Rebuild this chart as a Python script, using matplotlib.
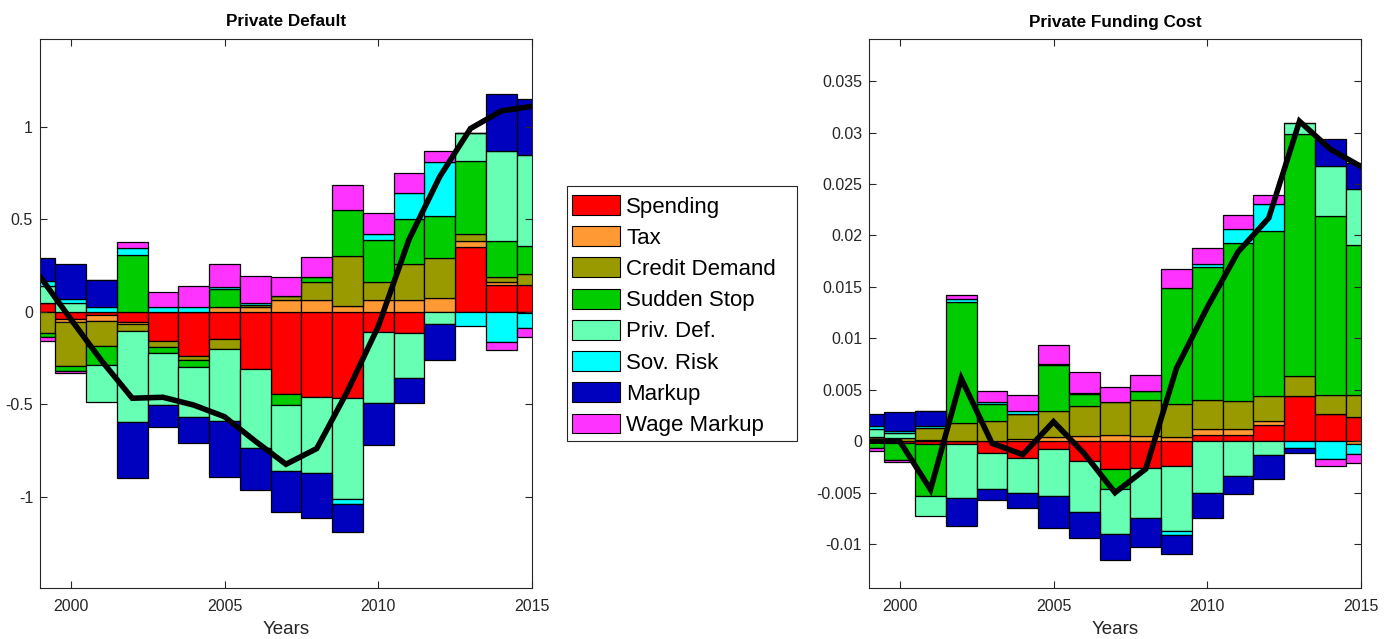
import matplotlib.pyplot as plt
import numpy as np
from matplotlib.patches import Patch, Rectangle
from matplotlib.ticker import FormatStrFormatter

plt.rcParams['font.family'] = ['Liberation Sans', 'DejaVu Sans']
plt.rcParams['axes.unicode_minus'] = False

years = np.arange(1999, 2016)
labels = ['Spending', 'Tax', 'Credit Demand', 'Sudden Stop', 'Priv. Def.',
          'Sov. Risk', 'Markup', 'Wage Markup']
colors = ['#ff0000', '#ff9933', '#999900', '#00cc00', '#66ffb3',
          '#00ffff', '#0000bf', '#ff33ff']

# Private Default decomposition
pd_spending = [0.049, -0.041, -0.018, -0.058, -0.157, -0.24, -0.148, -0.312, -0.445,
               -0.463, -0.468, -0.108, -0.113, 0.0, 0.351, 0.144, 0.144]
pd_tax = [0.0, -0.013, -0.032, -0.011, 0.0, 0.0, 0.023, 0.027, 0.065,
          0.063, 0.032, 0.063, 0.063, 0.072, 0.032, 0.014, -0.008]
pd_credit = [-0.117, -0.24, -0.135, -0.036, -0.036, -0.022, -0.056, 0.011, 0.018,
             0.099, 0.268, 0.095, 0.193, 0.216, 0.036, 0.027, 0.058]
pd_sudden = [-0.02, -0.027, -0.106, 0.306, -0.029, -0.036, 0.097, 0.0, -0.06,
             0.023, 0.252, 0.229, 0.243, 0.231, 0.395, 0.198, 0.155]
pd_privdef = [0.09, 0.045, -0.2, -0.49, -0.283, -0.27, -0.387, -0.423, -0.357,
              -0.41, -0.546, -0.387, -0.247, -0.067, 0.153, 0.486, 0.49]
pd_sovrisk = [0.029, 0.022, 0.027, 0.036, 0.027, 0.025, 0.014, 0.009, 0.0,
              0.0, -0.027, 0.032, 0.144, 0.292, -0.077, -0.162, -0.08]
pd_markup = [0.124, 0.189, 0.144, -0.303, -0.117, -0.144, -0.301, -0.229, -0.222,
             -0.24, -0.151, -0.225, -0.135, -0.195, 0.0, 0.306, 0.301]
pd_wage = [-0.02, -0.013, 0.0, 0.036, 0.077, 0.114, 0.126, 0.144, 0.105,
           0.112, 0.131, 0.115, 0.105, 0.059, 0.0, -0.045, -0.05]
pd_line = [0.19, -0.04, -0.265, -0.468, -0.463, -0.505, -0.568, -0.70, -0.825,
           -0.74, -0.43, -0.08, 0.39, 0.73, 0.99, 1.085, 1.11]

# Private Funding Cost decomposition
fc_spending = [0.0001, -0.0002, -0.0003, -0.0003, -0.0011, -0.0016, -0.0008, -0.0019, -0.0027,
               -0.0026, -0.0024, 0.0006, 0.0006, 0.0016, 0.0044, 0.0026, 0.0024]
fc_tax = [0.0, 0.0, 0.0001, 0.0, 0.0, 0.0002, 0.0004, 0.0005, 0.0006,
          0.0005, 0.0004, 0.0006, 0.0006, 0.0004, 0.0, 0.0, -0.0003]
fc_credit = [0.0003, 0.0003, 0.0012, 0.0018, 0.0020, 0.0024, 0.0025, 0.0029, 0.0032,
             0.0035, 0.0032, 0.0028, 0.0027, 0.0024, 0.0019, 0.0019, 0.0021]
fc_sudden = [-0.0007, -0.0016, -0.0050, 0.0117, 0.0016, 0.0, 0.0045, 0.0012, -0.0019,
             0.0009, 0.0113, 0.0129, 0.0154, 0.0160, 0.0236, 0.0174, 0.0146]
fc_privdef = [0.0008, 0.0005, -0.0020, -0.0052, -0.0035, -0.0034, -0.0045, -0.0050, -0.0044,
              -0.0049, -0.0063, -0.0050, -0.0034, -0.0013, 0.0010, 0.0049, 0.0054]
fc_sovrisk = [0.0003, 0.0002, 0.00015, 0.0003, 0.0002, 0.0003, 0.0001, 0.0001, 0.0,
              0.0, -0.0004, 0.0003, 0.0013, 0.0027, -0.0007, -0.0017, -0.0009]
fc_markup = [0.0011, 0.0018, 0.0015, -0.0027, -0.0011, -0.0015, -0.0031, -0.0025, -0.0025,
             -0.0028, -0.0019, -0.0025, -0.0017, -0.0024, -0.0004, 0.0026, 0.0025]
fc_wage = [-0.0003, -0.0002, 0.0, 0.0004, 0.0011, 0.0016, 0.0019, 0.0020, 0.0015,
           0.0015, 0.0018, 0.0016, 0.0014, 0.0008, 0.0, -0.0007, -0.0009]
fc_line = [0.0, 0.0, -0.0047, 0.0061, -0.0002, -0.0013, 0.0019, -0.0012, -0.0050,
           -0.0027, 0.0071, 0.0130, 0.0184, 0.0217, 0.0311, 0.0284, 0.0267]


def stacked(ax, comps, line, title, ylim, yticks):
    pos = np.zeros(len(years))
    neg = np.zeros(len(years))
    for vals, c in zip(comps, colors):
        vals = np.array(vals)
        bottom = np.where(vals >= 0, pos, neg)
        ax.bar(years, vals, width=1, bottom=bottom, color=c,
               edgecolor='black', linewidth=0.9)
        pos += np.clip(vals, 0, None)
        neg += np.clip(vals, None, 0)
    ax.plot(years, line, color='black', linewidth=4, solid_joinstyle='miter')
    ax.set_xlim(1999, 2015)
    ax.set_ylim(*ylim)
    ax.set_xticks([2000, 2005, 2010, 2015])
    ax.set_yticks(yticks)
    ax.yaxis.set_major_formatter(FormatStrFormatter('%g'))
    ax.set_title(title, fontsize=12.3, fontweight='bold', pad=9)
    ax.set_xlabel('Years', fontsize=13.5, color='#262626', labelpad=5)
    ax.tick_params(direction='in', top=True, right=True, length=5, pad=5,
                   labelsize=11.5, color='#262626', labelcolor='#262626')
    ax.tick_params(axis='x', pad=8)
    for s in ax.spines.values():
        s.set_color('#262626')
        s.set_linewidth(0.8)


fig = plt.figure(figsize=(13.93, 6.39), dpi=100)
ax1 = fig.add_axes([40 / 1393, 51 / 639, 492 / 1393, 549 / 639])
ax2 = fig.add_axes([869 / 1393, 51 / 639, 492 / 1393, 549 / 639])

stacked(ax1, [pd_spending, pd_tax, pd_credit, pd_sudden, pd_privdef,
              pd_sovrisk, pd_markup, pd_wage], pd_line,
        'Private Default', (-1.494, 1.474), [-1, -0.5, 0, 0.5, 1])
stacked(ax2, [fc_spending, fc_tax, fc_credit, fc_sudden, fc_privdef,
              fc_sovrisk, fc_markup, fc_wage], fc_line,
        'Private Funding Cost', (-0.01427, 0.0391),
        [-0.01, -0.005, 0, 0.005, 0.01, 0.015, 0.02, 0.025, 0.03, 0.035])

# legend box drawn separately so it can be as wide as the original
fig.patches.append(Rectangle((567 / 1393, 1 - 441 / 639), 230 / 1393, 255 / 639,
                             transform=fig.transFigure, facecolor='white',
                             edgecolor='#262626', linewidth=0.8, zorder=1))
handles = [Patch(facecolor=c, edgecolor='black', linewidth=0.8) for c in colors]
leg = fig.legend(handles, labels, loc='upper left',
                 bbox_to_anchor=(572 / 1393, 1 - 195 / 639), borderaxespad=0,
                 fontsize=16, handlelength=2.15, handleheight=1.0,
                 labelspacing=0.39, handletextpad=0.3, borderpad=0,
                 frameon=False)

fig.savefig('out.png', dpi=100)
